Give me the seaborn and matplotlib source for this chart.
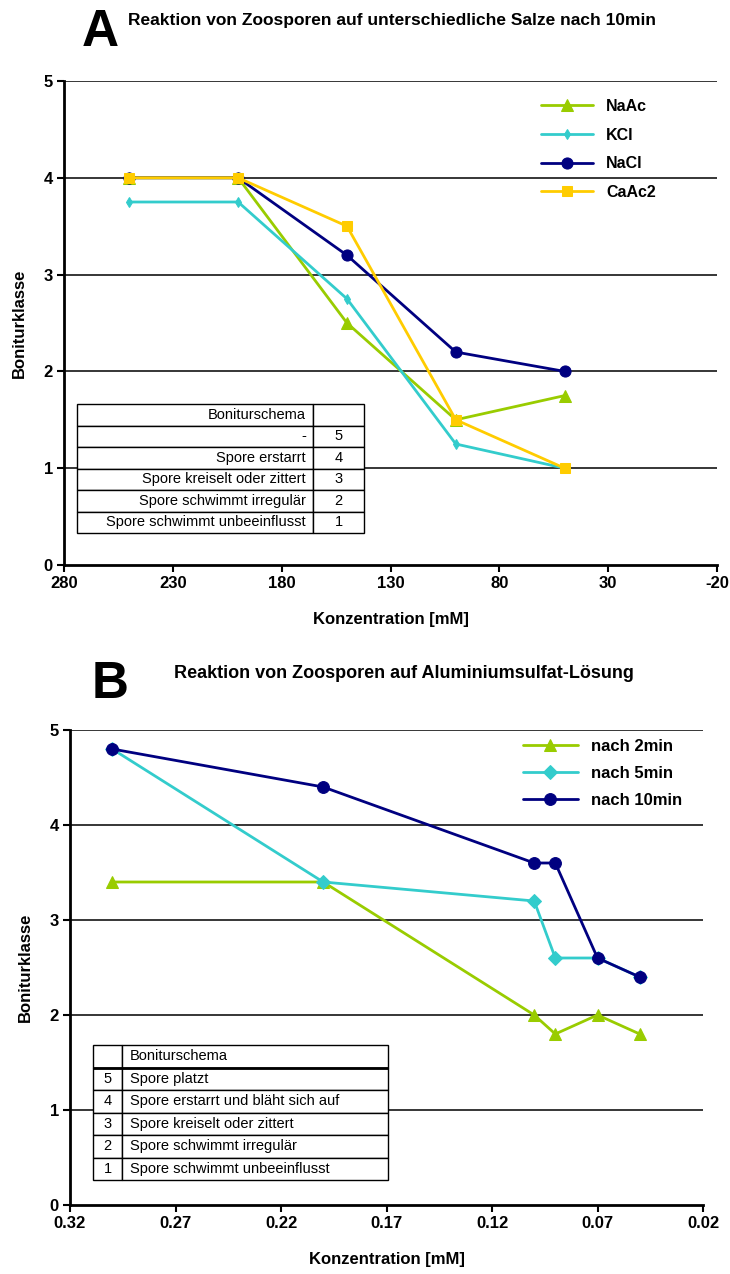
import matplotlib
matplotlib.use("Agg")
import matplotlib.pyplot as plt
import seaborn as sns
import pandas as pd

# ---- data: salts after 10 min ----
conc_salts = [250, 200, 150, 100, 50]
naac = [4.0, 4.0, 2.5, 1.5, 1.75]
kcl = [3.75, 3.75, 2.75, 1.25, 1.0]
nacl = [4.0, 4.0, 3.2, 2.2, 2.0]
caac2 = [4.0, 4.0, 3.5, 1.5, 1.0]
salt_names = ["NaAc", "KCl", "NaCl", "CaAc2"]

# ---- data: aluminium sulfate over time ----
conc_al = [0.30, 0.20, 0.10, 0.09, 0.07, 0.05]
nach_2 = [3.4, 3.4, 2.0, 1.8, 2.0, 1.8]
nach_5 = [4.8, 3.4, 3.2, 2.6, 2.6, 2.4]
nach_10 = [4.8, 4.4, 3.6, 3.6, 2.6, 2.4]
time_names = ["nach 2min", "nach 5min", "nach 10min"]

xticks_a = [280, 230, 180, 130, 80, 30, -20]
xticks_b = [0.32, 0.27, 0.22, 0.17, 0.12, 0.07, 0.02]
yticks = [0, 1, 2, 3, 4, 5]

scheme_a = [["Boniturschema", ""], ["-", "5"], ["Spore erstarrt", "4"],
            ["Spore kreiselt oder zittert", "3"], ["Spore schwimmt irregulär", "2"],
            ["Spore schwimmt unbeeinflusst", "1"]]
scheme_b = [["", "Boniturschema"], ["5", "Spore platzt"], ["4", "Spore erstarrt und bläht sich auf"],
            ["3", "Spore kreiselt oder zittert"], ["2", "Spore schwimmt irregulär"],
            ["1", "Spore schwimmt unbeeinflusst"]]

GREEN, CYAN, NAVY, YELLOW = "#99CC00", "#33CCCC", "#000080", "#FFCC00"

sns.set_theme(style="white")
plt.rcParams["font.family"] = ["Liberation Sans", "DejaVu Sans"]
plt.rcParams.update({"text.color": "black", "axes.labelcolor": "black",
                     "xtick.color": "black", "ytick.color": "black"})

fig = plt.figure(figsize=(7.3, 12.74), dpi=100)
ax_a = fig.add_axes([64 / 730, 1 - 565 / 1274, 653 / 730, 484 / 1274])
ax_b = fig.add_axes([70 / 730, 1 - 1205 / 1274, 633 / 730, 475 / 1274])

df_a = pd.DataFrame({
    "Konzentration": conc_salts * 4,
    "Boniturklasse": naac + kcl + nacl + caac2,
    "Salz": sum([[n] * len(conc_salts) for n in salt_names], []),
})
df_b = pd.DataFrame({
    "Konzentration": conc_al * 3,
    "Boniturklasse": nach_2 + nach_5 + nach_10,
    "Zeit": sum([[n] * len(conc_al) for n in time_names], []),
})

style_a = {"NaAc": (GREEN, "^", 8), "KCl": (CYAN, "d", 5),
           "NaCl": (NAVY, "o", 8), "CaAc2": (YELLOW, "s", 6.5)}
for name in salt_names:
    c, m, ms = style_a[name]
    sns.lineplot(data=df_a[df_a["Salz"] == name], x="Konzentration", y="Boniturklasse",
                 ax=ax_a, color=c, marker=m, markersize=ms, markeredgecolor=c,
                 linewidth=2, sort=False, label=name, zorder=3)

style_b = {"nach 2min": (GREEN, "^", 8), "nach 5min": (CYAN, "D", 7),
           "nach 10min": (NAVY, "o", 8.5)}
for name in time_names:
    c, m, ms = style_b[name]
    sns.lineplot(data=df_b[df_b["Zeit"] == name], x="Konzentration", y="Boniturklasse",
                 ax=ax_b, color=c, marker=m, markersize=ms, markeredgecolor=c,
                 linewidth=2, sort=False, label=name, zorder=3)


def style_axes(ax, xticks, xfmt):
    ax.set_xlim(xticks[0], xticks[-1])
    ax.set_ylim(0, 5)
    ax.set_xticks(xticks)
    ax.set_xticklabels([xfmt(v) for v in xticks], fontsize=12, fontweight="bold")
    ax.set_yticks(yticks)
    ax.set_yticklabels([str(v) for v in yticks], fontsize=12, fontweight="bold")
    for y in yticks[1:]:
        ax.axhline(y, color="black", linewidth=1.1, zorder=1)
    for s in ["top", "right"]:
        ax.spines[s].set_visible(False)
    for s in ["left", "bottom"]:
        ax.spines[s].set_color("black")
        ax.spines[s].set_linewidth(2)
    ax.tick_params(axis="both", direction="out", length=5, width=1.5, color="black",
                   labelcolor="black", bottom=True, left=True, pad=3)
    ax.set_xlabel("Konzentration [mM]", fontsize=12, fontweight="bold", labelpad=15)
    ax.set_ylabel("Boniturklasse", fontsize=12, fontweight="bold", labelpad=12)
    ax.grid(False)


style_axes(ax_a, xticks_a, lambda v: f"{v:d}")
style_axes(ax_b, xticks_b, lambda v: f"{v:.2f}")

leg_a = ax_a.legend(loc="upper left", bbox_to_anchor=(0.72, 0.976), frameon=False,
                    handlelength=3.3, labelspacing=0.85, borderaxespad=0,
                    prop={"weight": "bold", "size": 11.5})
leg_b = ax_b.legend(loc="upper left", bbox_to_anchor=(0.705, 0.995), frameon=False,
                    handlelength=3.3, labelspacing=0.72, borderaxespad=0,
                    prop={"weight": "bold", "size": 12})


def draw_table(ax, rows, bbox, col_widths, aligns):
    tab = ax.table(cellText=rows, colWidths=col_widths, bbox=bbox, zorder=4)
    tab.auto_set_font_size(False)
    for (r, c), cell in tab.get_celld().items():
        cell.set_facecolor("white")
        cell.set_edgecolor("black")
        cell.set_linewidth(1.0)
        cell.set_text_props(fontsize=10.5, color="black")
        cell.get_text().set_horizontalalignment(aligns[c])
        cell.PAD = 0.03
    return tab


draw_table(ax_a, scheme_a, [13 / 653, 32 / 484, 287 / 653, 129 / 484],
           [236 / 287, 51 / 287], ["right", "center"])
draw_table(ax_b, scheme_b, [23 / 633, 25 / 475, 295 / 633, 135 / 475],
           [29 / 295, 266 / 295], ["center", "left"])
# heavier rule under the header row of the aluminium table
ax_b.plot([23 / 633, 318 / 633], [(25 + 135 * 5 / 6) / 475] * 2, color="black",
          linewidth=2, transform=ax_b.transAxes, zorder=5, solid_capstyle="butt")

# panel letters and titles
fig.text(100 / 730, 1 - 32 / 1274, "A", fontsize=37, fontweight="bold",
         ha="center", va="center")
fig.text(128 / 730, 1 - 21 / 1274, "Reaktion von Zoosporen auf unterschiedliche Salze nach 10min",
         fontsize=12.5, fontweight="bold", ha="left", va="center")
fig.text(110 / 730, 1 - 685 / 1274, "B", fontsize=37, fontweight="bold",
         ha="center", va="center")
fig.text(174 / 730, 1 - 674 / 1274, "Reaktion von Zoosporen auf Aluminiumsulfat-Lösung",
         fontsize=13, fontweight="bold", ha="left", va="center")

fig.savefig("out.png", dpi=100, facecolor="white")
